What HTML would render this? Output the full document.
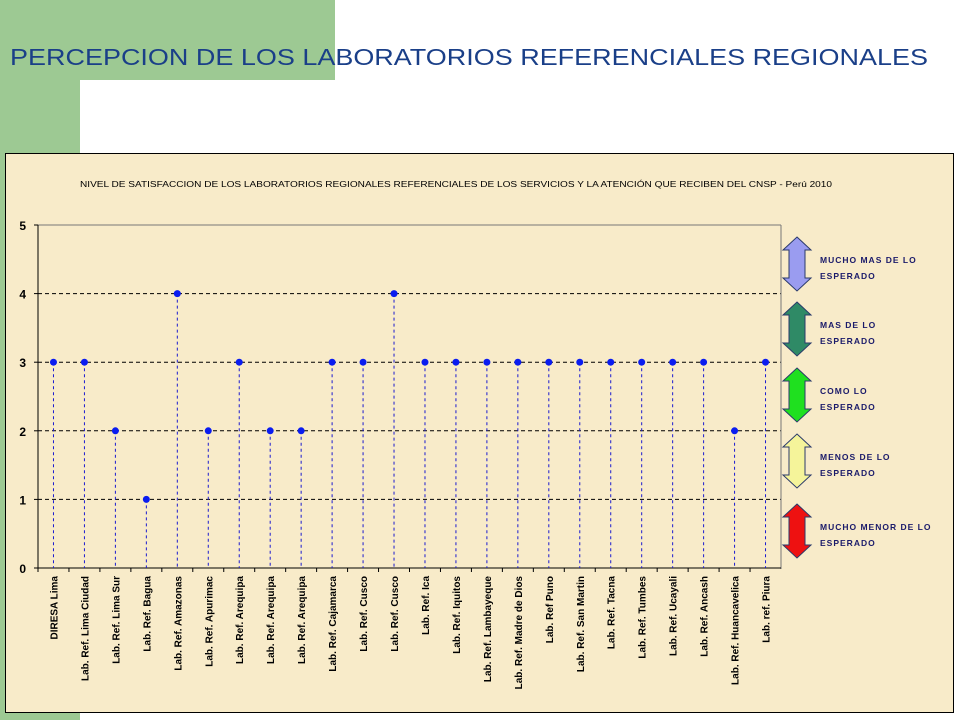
<!DOCTYPE html>
<html><head><meta charset="utf-8"><style>
body{margin:0;width:960px;height:720px;position:relative;background:#fff;overflow:hidden;font-family:"Liberation Sans",sans-serif}
</style></head><body>
<div style="position:absolute;left:0;top:0;width:80px;height:720px;background:#9dc993"></div>
<div style="position:absolute;left:0;top:0;width:335px;height:80px;background:#9dc993"></div>
<div style="position:absolute;left:80px;top:80px;width:300px;height:100px;background:#fff;border-top-left-radius:30px"></div>
<svg style="position:absolute;left:0;top:0" width="960" height="720" id="chart">
<text x="10" y="65" font-size="23" fill="#1a3f88" textLength="918" lengthAdjust="spacingAndGlyphs">PERCEPCION DE LOS LABORATORIOS  REFERENCIALES REGIONALES</text>
<rect x="5.5" y="153.5" width="948" height="559" fill="#f8ebc9" stroke="#000" stroke-width="1"/>
<text x="80" y="187" font-size="8" fill="#000" textLength="752" lengthAdjust="spacingAndGlyphs">NIVEL DE SATISFACCION DE LOS  LABORATORIOS REGIONALES REFERENCIALES  DE LOS SERVICIOS Y LA ATENCIÓN QUE RECIBEN DEL CNSP - Perú 2010</text>
<g id="plot"></g>
</svg>
<script>
const categories=["DIRESA Lima","Lab. Ref. Lima Ciudad","Lab. Ref. Lima Sur","Lab. Ref. Bagua","Lab. Ref. Amazonas","Lab. Ref. Apurimac","Lab. Ref. Arequipa","Lab. Ref. Arequipa","Lab. Ref. Arequipa","Lab. Ref. Cajamarca","Lab. Ref. Cusco","Lab. Ref. Cusco","Lab. Ref. Ica","Lab. Ref. Iquitos","Lab. Ref. Lambayeque","Lab. Ref. Madre de Dios","Lab. Ref Puno","Lab. Ref. San Martin","Lab. Ref. Tacna","Lab. Ref. Tumbes","Lab. Ref. Ucayali","Lab. Ref. Ancash","Lab. Ref. Huancavelica","Lab. ref. Piura"];
const values=[3,3,2,1,4,2,3,2,2,3,3,4,3,3,3,3,3,3,3,3,3,3,2,3];
const yTicks=[0,1,2,3,4,5];
const legendLabels=[["MUCHO MAS DE LO","ESPERADO"],["MAS DE LO","ESPERADO"],["COMO LO","ESPERADO"],["MENOS DE LO","ESPERADO"],["MUCHO MENOR DE LO","ESPERADO"]];
const legendColors=["#9a9cf0","#2f8a66","#1fe01f","#f5f49a","#ee1111"];
const NS="http://www.w3.org/2000/svg";
const L=38,R=781,T=225,B=568;
const bw=(R-L)/categories.length;
const x=i=>L+bw*(i+0.5);
const y=v=>B-(B-T)*v/5;
const g=document.getElementById('plot');
function mk(t,a){const e=document.createElementNS(NS,t);for(const k in a)e.setAttribute(k,a[k]);g.appendChild(e);return e;}
yTicks.forEach(v=>{
  if(v>0&&v<5){const l=mk('line',{x1:L,x2:R,y1:y(v),y2:y(v),stroke:'#000','stroke-dasharray':'4,3','stroke-width':1});
  
  }
  const tk=mk('line',{x1:L-4,x2:L,y1:y(v),y2:y(v),stroke:'#000'});
  
  
  const t=mk('text',{x:L-12,y:y(v)+5,'font-size':12,'font-weight':'bold','text-anchor':'end'});
  t.textContent=v;
  
  
});
const top5=mk('line',{x1:L,x2:R,y1:T,y2:T,stroke:'#777'});


const ya=mk('line',{x1:L,x2:L,y1:T,y2:B,stroke:'#000'});


const rb=mk('line',{x1:R,x2:R,y1:T,y2:B+1,stroke:'#777'});


const xa=mk('line',{x1:L,x2:R,y1:B,y2:B,stroke:'#000'});


categories.forEach((c,i)=>{
  const tk=mk('line',{x1:L+bw*i,x2:L+bw*i,y1:B,y2:B+4,stroke:'#000'});
  
  
  const st=mk('line',{x1:x(i),x2:x(i),y1:y(values[i]),y2:B,stroke:'#1a1ad0','stroke-dasharray':'3,3'});
  
  
  const p=mk('circle',{cx:x(i),cy:y(values[i]),r:3.5,fill:'#0a1cf0'});
  
  
  const t=mk('text',{x:0,y:0,'font-size':10,'font-weight':'bold','text-anchor':'end',transform:`translate(${x(i)+4},${B+8}) rotate(-90)`});
  t.textContent=c;
  
  
});
const ly=[264,329,395,461,531];
legendLabels.forEach((lab,i)=>{
  const cx=797,cy=ly[i],h=27,ws=8,wh=14;
  const pts=[[cx,cy-h],[cx+wh,cy-h+13],[cx+ws,cy-h+13],[cx+ws,cy+h-13],[cx+wh,cy+h-13],[cx,cy+h],[cx-wh,cy+h-13],[cx-ws,cy+h-13],[cx-ws,cy-h+13],[cx-wh,cy-h+13]].map(p=>p.join(',')).join(' ');
  const a=mk('polygon',{points:pts,fill:legendColors[i],stroke:'#2a3a6a','stroke-width':1});
  
  
  lab.forEach((s,j)=>{
    const t=mk('text',{x:820,y:cy-1+j*16,'font-size':8.5,'font-weight':'bold',fill:'#1a1a6a','letter-spacing':'1'});
    t.textContent=s;
    
    
  });
});
</script>
</body></html>
